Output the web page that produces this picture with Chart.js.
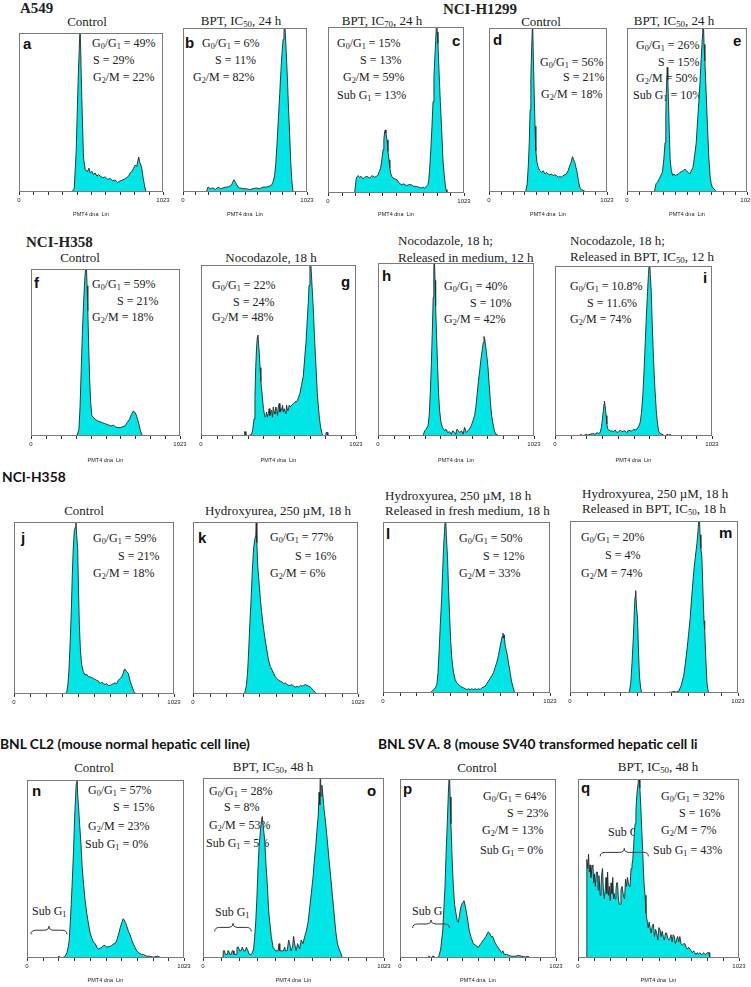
<!DOCTYPE html>
<html>
<head>
<meta charset="utf-8">
<script src="https://cdn.jsdelivr.net/npm/chart.js@4.4.1/dist/chart.umd.min.js"></script>
<style>
  body { margin: 0; width: 751px; height: 987px; position: relative; overflow: hidden; background: #fff; color: #222; font-family: 'Liberation Serif', serif; }
  .t { position: absolute; white-space: nowrap; line-height: 1; transform: translateY(-50%); z-index: 1; }
  .mid { transform: translate(-50%, -50%); }
  .s { font-size: 12px; }
  .h { font-size: 13px; }
  .sec { font-size: 15px; font-weight: bold; }
  .secs { font-family: Lato, 'Liberation Sans', sans-serif; font-size: 13.8px; font-weight: bold; color: #111; }
  .L { font-family: 'Liberation Sans', sans-serif; font-size: 15px; font-weight: bold; color: #111; }
  sub { font-size: 0.68em; vertical-align: -0.3em; line-height: 0; }
  canvas { position: absolute; z-index: 2; }
</style>
</head>
<body>
<!-- section heads -->
<div class="t sec" style="left:20px;top:8px">A549</div>
<div class="t sec mid" style="left:480px;top:9px">NCI-H1299</div>
<div class="t sec" style="left:26px;top:242px">NCI-H358</div>
<div class="t secs" style="left:2px;top:477px">NCI-H358</div>
<div class="t secs" style="left:0px;top:744px">BNL CL2 (mouse normal hepatic cell line)</div>
<div class="t secs" style="left:378px;top:744px">BNL SV A. 8 (mouse SV40 transformed hepatic cell li</div>

<!-- panel titles -->
<div class="t h mid" style="left:87px;top:21px">Control</div>
<div class="t h mid" style="left:241px;top:20px">BPT, IC<sub>50</sub>, 24 h</div>
<div class="t h mid" style="left:382px;top:20px">BPT, IC<sub>70</sub>, 24 h</div>
<div class="t h mid" style="left:541px;top:21px">Control</div>
<div class="t h mid" style="left:674px;top:20px">BPT, IC<sub>50</sub>, 24 h</div>

<div class="t h mid" style="left:80px;top:257px">Control</div>
<div class="t h mid" style="left:271px;top:257px">Nocodazole, 18 h</div>
<div class="t h" style="left:398px;top:240px">Nocodazole, 18 h;</div>
<div class="t h" style="left:398px;top:257px">Released in medium, 12 h</div>
<div class="t h" style="left:570px;top:240px">Nocodazole, 18 h;</div>
<div class="t h" style="left:570px;top:256px">Released in BPT, IC<sub>50</sub>, 12 h</div>

<div class="t h mid" style="left:84px;top:510px">Control</div>
<div class="t h mid" style="left:278px;top:510px">Hydroxyurea, 250 µM, 18 h</div>
<div class="t h" style="left:385px;top:495px">Hydroxyurea, 250 µM, 18 h</div>
<div class="t h" style="left:385px;top:510px">Released in fresh medium, 18 h</div>
<div class="t h" style="left:582px;top:493px">Hydroxyurea, 250 µM, 18 h</div>
<div class="t h" style="left:582px;top:508px">Released in BPT, IC<sub>50</sub>, 18 h</div>

<div class="t h mid" style="left:94px;top:767px">Control</div>
<div class="t h mid" style="left:273px;top:766px">BPT, IC<sub>50</sub>, 48 h</div>
<div class="t h mid" style="left:477px;top:767px">Control</div>
<div class="t h mid" style="left:658px;top:766px">BPT, IC<sub>50</sub>, 48 h</div>

<!-- panel letters -->
<div class="t L" style="left:23px;top:43px">a</div>
<div class="t L" style="left:185px;top:42px">b</div>
<div class="t L" style="left:452px;top:40px">c</div>
<div class="t L" style="left:493px;top:39px">d</div>
<div class="t L" style="left:733px;top:40px">e</div>
<div class="t L" style="left:34px;top:282px">f</div>
<div class="t L" style="left:341px;top:281px">g</div>
<div class="t L" style="left:382px;top:275px">h</div>
<div class="t L" style="left:703px;top:277px">i</div>
<div class="t L" style="left:21px;top:537px">j</div>
<div class="t L" style="left:198px;top:537px">k</div>
<div class="t L" style="left:386px;top:533px">l</div>
<div class="t L" style="left:719px;top:532px">m</div>
<div class="t L" style="left:32px;top:790px">n</div>
<div class="t L" style="left:367px;top:790px">o</div>
<div class="t L" style="left:403px;top:788px">p</div>
<div class="t L" style="left:581px;top:787px">q</div>

<!-- cell cycle percentages -->
<div class="t s" style="left:92px;top:43px">G<sub>0</sub>/G<sub>1</sub> = 49%</div>
<div class="t s" style="left:93px;top:60px">S = 29%</div>
<div class="t s" style="left:93px;top:77px">G<sub>2</sub>/M = 22%</div>

<div class="t s" style="left:202px;top:43px">G<sub>0</sub>/G<sub>1</sub> = 6%</div>
<div class="t s" style="left:215px;top:60px">S = 11%</div>
<div class="t s" style="left:193px;top:77px">G<sub>2</sub>/M = 82%</div>

<div class="t s" style="left:337px;top:43px">G<sub>0</sub>/G<sub>1</sub> = 15%</div>
<div class="t s" style="left:360px;top:60px">S = 13%</div>
<div class="t s" style="left:343px;top:77px">G<sub>2</sub>/M = 59%</div>
<div class="t s" style="left:337px;top:95px">Sub G<sub>1</sub> = 13%</div>

<div class="t s" style="left:540px;top:62px">G<sub>0</sub>/G<sub>1</sub> = 56%</div>
<div class="t s" style="left:563px;top:77px">S = 21%</div>
<div class="t s" style="left:541px;top:94px">G<sub>2</sub>/M = 18%</div>

<div class="t s" style="left:636px;top:45px">G<sub>0</sub>/G<sub>1</sub> = 26%</div>
<div class="t s" style="left:658px;top:62px">S = 15%</div>
<div class="t s" style="left:636px;top:78px">G<sub>2</sub>/M = 50%</div>
<div class="t s" style="left:633px;top:95px">Sub G<sub>1</sub> = 10%</div>

<div class="t s" style="left:92px;top:284px">G<sub>0</sub>/G<sub>1</sub> = 59%</div>
<div class="t s" style="left:117px;top:301px">S = 21%</div>
<div class="t s" style="left:92px;top:317px">G<sub>2</sub>/M = 18%</div>

<div class="t s" style="left:212px;top:285px">G<sub>0</sub>/G<sub>1</sub> = 22%</div>
<div class="t s" style="left:233px;top:302px">S = 24%</div>
<div class="t s" style="left:212px;top:317px">G<sub>2</sub>/M = 48%</div>

<div class="t s" style="left:444px;top:286px">G<sub>0</sub>/G<sub>1</sub> = 40%</div>
<div class="t s" style="left:470px;top:303px">S = 10%</div>
<div class="t s" style="left:444px;top:319px">G<sub>2</sub>/M = 42%</div>

<div class="t s" style="left:570px;top:286px">G<sub>0</sub>/G<sub>1</sub> = 10.8%</div>
<div class="t s" style="left:587px;top:303px">S = 11.6%</div>
<div class="t s" style="left:570px;top:319px">G<sub>2</sub>/M = 74%</div>

<div class="t s" style="left:93px;top:538px">G<sub>0</sub>/G<sub>1</sub> = 59%</div>
<div class="t s" style="left:118px;top:556px">S = 21%</div>
<div class="t s" style="left:93px;top:573px">G<sub>2</sub>/M = 18%</div>

<div class="t s" style="left:270px;top:537px">G<sub>0</sub>/G<sub>1</sub> = 77%</div>
<div class="t s" style="left:295px;top:556px">S = 16%</div>
<div class="t s" style="left:270px;top:573px">G<sub>2</sub>/M = 6%</div>

<div class="t s" style="left:459px;top:538px">G<sub>0</sub>/G<sub>1</sub> = 50%</div>
<div class="t s" style="left:483px;top:556px">S = 12%</div>
<div class="t s" style="left:459px;top:573px">G<sub>2</sub>/M = 33%</div>

<div class="t s" style="left:581px;top:537px">G<sub>0</sub>/G<sub>1</sub> = 20%</div>
<div class="t s" style="left:605px;top:555px">S = 4%</div>
<div class="t s" style="left:581px;top:573px">G<sub>2</sub>/M = 74%</div>

<div class="t s" style="left:88px;top:790px">G<sub>0</sub>/G<sub>1</sub> = 57%</div>
<div class="t s" style="left:113px;top:807px">S = 15%</div>
<div class="t s" style="left:88px;top:826px">G<sub>2</sub>/M = 23%</div>
<div class="t s" style="left:85px;top:844px">Sub G<sub>1</sub> = 0%</div>
<div class="t s" style="left:32px;top:911px">Sub G<sub>1</sub></div>

<div class="t s" style="left:209px;top:791px">G<sub>0</sub>/G<sub>1</sub> = 28%</div>
<div class="t s" style="left:224px;top:807px">S = 8%</div>
<div class="t s" style="left:209px;top:825px">G<sub>2</sub>/M = 53%</div>
<div class="t s" style="left:206px;top:843px">Sub G<sub>1</sub> = 5%</div>
<div class="t s" style="left:215px;top:912px">Sub G<sub>1</sub></div>

<div class="t s" style="left:483px;top:796px">G<sub>0</sub>/G<sub>1</sub> = 64%</div>
<div class="t s" style="left:507px;top:813px">S = 23%</div>
<div class="t s" style="left:482px;top:830px">G<sub>2</sub>/M = 13%</div>
<div class="t s" style="left:480px;top:850px">Sub G<sub>1</sub> = 0%</div>
<div class="t s" style="left:412px;top:911px">Sub G<sub>1</sub></div>

<div class="t s" style="left:661px;top:796px">G<sub>0</sub>/G<sub>1</sub> = 32%</div>
<div class="t s" style="left:679px;top:813px">S = 16%</div>
<div class="t s" style="left:661px;top:830px">G<sub>2</sub>/M = 7%</div>
<div class="t s" style="left:653px;top:850px">Sub G<sub>1</sub> = 43%</div>
<div class="t s" style="left:608px;top:832px">Sub G<sub>1</sub></div>

<script>
// DNA content histograms: [channel, relative count], 100 = top of the frame
const histA = [[375,0],[392,2],[406,25],[420,70],[434,105],[446,60],[458,22],[470,14],[487,13],[497,15],[506,12],[518,13],[529,11],[541,12],[553,10],[565,11],[577,10],[595,9],[612,9.5],[630,8],[648,8.5],[666,7],[684,7.5],[700,6],[719,7],[734,7.5],[748,8],[763,9],[779,10],[790,12],[802,13],[814,15],[826,17],[836,16],[845,20],[851,22],[857,19],[866,17],[874,14],[882,9],[890,5],[902,0]];
const histB = [[192,0],[206,3],[227,2],[248,2.5],[268,1.5],[289,3],[310,2],[330,2.5],[350,3],[371,3],[385,3.5],[399,4],[410,6],[421,7.5],[430,6],[440,5],[454,3],[468,2.5],[495,2],[523,2],[550,1.5],[578,2],[605,2.5],[633,2],[660,3],[688,3],[710,3.5],[729,4],[742,6],[756,10],[766,18],[776,30],[787,45],[798,60],[808,74],[817,85],[826,93],[833,97],[839,105],[844,97],[852,85],[861,70],[870,52],[880,35],[889,18],[897,8],[908,0]];
const histC = [[200,0],[213,9],[225,10.5],[238,9.5],[250,10],[263,8.5],[276,9.5],[294,10],[313,9],[332,10.5],[351,9.5],[365,10],[376,11],[386,13],[396,15],[405,20],[414,26],[420,32],[426,37],[431,38],[436,36],[444,32],[451,25],[459,20],[465,15],[471,12],[480,10],[489,9],[504,8.5],[519,8],[535,6],[552,5],[570,5.5],[589,4.5],[608,5],[627,5],[645,4],[664,4],[683,3.5],[702,3],[715,3.5],[727,3],[740,4],[752,5],[758,8],[765,15],[774,27],[782,40],[790,55],[797,70],[804,82],[810,92],[815,100],[818,105],[822,97],[827,90],[836,72],[845,55],[855,38],[865,20],[874,11],[882,5],[888,2],[895,0]];
const histD = [[317,0],[331,5],[340,15],[349,30],[356,50],[363,70],[370,88],[378,105],[385,80],[392,60],[399,40],[406,25],[416,18],[427,15],[441,13],[455,12],[470,13],[485,11],[499,12],[513,11],[528,10.5],[542,11],[556,10],[570,10.5],[585,10],[600,9],[614,9.5],[628,9],[642,10],[657,10.5],[671,11],[686,13],[700,16],[711,18],[723,21.5],[733,20],[744,18],[754,15],[764,12],[775,7],[787,3],[800,1.5],[816,1],[830,0.5],[844,0]];
const histE = [[233,0],[247,5],[261,6],[274,8],[288,10],[302,12],[314,20],[324,30],[331,48],[337,65],[343,76],[348,68],[354,55],[361,35],[368,20],[378,13],[390,10],[402,11],[414,10],[425,10.5],[440,11],[453,12],[466,12.5],[480,13],[494,14],[507,13],[521,12],[535,11],[548,13],[562,15],[576,22],[590,30],[603,45],[617,60],[628,75],[639,90],[645,97],[650,105],[657,90],[664,80],[675,60],[686,40],[697,22],[708,10],[718,5],[727,3],[740,2],[754,1],[768,0]];
const histF = [[315,0],[329,4],[337,18],[345,40],[353,62],[361,80],[370,95],[379,105],[385,90],[390,75],[396,55],[402,35],[410,20],[418,12],[430,11],[441,10],[458,9],[475,8.5],[490,8],[505,7.5],[521,7],[535,6.5],[550,6],[566,6.5],[580,5.5],[596,5],[612,5],[628,5.5],[646,6],[660,8],[676,10],[690,13],[703,15],[710,14.5],[721,13],[732,10],[744,6],[752,3],[760,1],[772,0]];
const histG = [[285,0],[288,2.5],[293,2.5],[296,0],[312,0],[322,0.5],[334,1],[342,4],[350,10],[356,22],[361,40],[367,52],[372,58],[376,59],[380,54],[385,48],[390,40],[395,32],[403,25],[412,16],[422,11],[428,12],[433,14],[438,11],[444,13],[450,16],[455,12],[460,14],[466,15],[472,11],[477,17],[483,14],[488,13],[494,17],[500,15],[505,12],[510,17],[516,19],[521,14],[527,16],[532,15],[538,18],[543,14],[549,16],[554,16],[560,13],[565,18],[571,15],[576,15],[582,18],[590,17],[598,18],[610,19],[620,20],[631,20],[642,22],[653,25],[664,30],[675,35],[684,45],[693,55],[700,66],[708,78],[713,88],[719,100],[723,104],[728,96],[734,86],[741,75],[748,60],[755,47],[762,35],[768,24],[774,18],[782,10],[790,5],[797,2],[803,0],[823,0],[825,2],[835,2],[837,0]];
const histH = [[295,0],[306,3],[317,4],[328,6],[336,12],[343,25],[350,42],[356,60],[362,80],[366,95],[369,105],[374,90],[378,75],[384,58],[391,40],[397,25],[404,15],[413,8],[422,5],[430,4],[437,3],[447,4],[456,2],[470,2.5],[480,1],[490,3],[503,2],[510,1],[518,4],[527,3],[536,2],[548,3],[558,1],[568,5],[579,2],[590,3],[600,4],[612,6],[623,9],[634,12],[642,17],[651,25],[659,32],[667,38],[676,45],[684,50],[690,54],[695,57.5],[700,56],[706,52],[714,46],[721,40],[729,30],[737,20],[745,12],[754,7],[763,3],[772,1],[780,1],[787,0]];
const histI = [[163,0],[168,1],[175,0.5],[185,0],[200,1],[215,0.5],[229,1],[245,1.5],[260,1],[275,2],[285,1.5],[294,2],[302,5],[309,10],[315,15],[320,19],[322,20.5],[326,18],[333,12],[338,7],[344,4],[352,3.5],[360,3],[370,3],[380,2.5],[392,3.5],[403,2],[414,2.5],[425,3.5],[436,2.5],[447,3],[457,3],[468,2],[479,3.5],[490,3],[501,3],[512,4],[522,3.5],[533,4],[544,5.5],[555,8],[564,14],[573,25],[580,38],[588,55],[595,70],[603,85],[609,95],[614,102],[616,105],[621,95],[627,85],[634,65],[642,45],[651,28],[660,15],[667,8],[675,3],[686,1.5],[697,1],[708,0.5],[718,0],[732,1],[736,0],[752,1],[756,0]];
const histJ = [[315,0],[330,0.5],[337,1],[345,6],[352,15],[360,32],[367,50],[373,70],[379,85],[386,95],[392,97],[396,100],[401,92],[407,85],[412,62],[418,40],[425,25],[433,17],[443,13],[454,11],[465,11.5],[476,10],[486,10],[497,9.5],[508,9],[518,8.5],[528,8],[540,7.5],[550,6],[561,7],[571,6],[582,5.5],[593,6],[603,5],[614,5],[625,5.5],[635,6],[646,6.5],[656,6],[667,8],[678,9],[688,10],[698,12],[704,14],[710,14.5],[720,13],[731,12],[741,8],[752,5],[760,3],[767,1],[776,0.5],[784,0]];
const histK = [[314,0],[322,1],[331,5],[338,12],[345,25],[352,40],[360,55],[368,72],[376,85],[383,90],[389,92],[392,100],[396,88],[401,75],[407,68],[412,62],[418,55],[425,48],[431,43],[438,38],[445,33],[452,29],[459,25],[466,21],[473,18],[480,16],[490,14],[500,12],[510,10],[521,9],[531,8],[541,7.5],[552,7],[562,6],[572,6.5],[583,5.5],[593,5],[604,5],[614,5.5],[624,4.5],[635,4],[645,4.5],[655,4],[666,5],[676,4.5],[686,5],[697,5.5],[707,5],[718,4.5],[728,4],[738,3],[748,2],[758,1],[769,0]];
const histL = [[289,0],[300,1],[310,2],[320,3],[330,5],[337,12],[344,25],[351,40],[359,55],[365,70],[371,85],[377,95],[383,105],[389,90],[395,80],[401,62],[408,45],[415,30],[422,20],[432,12],[442,8],[452,6],[463,5],[473,4],[483,3.5],[494,3],[504,2.5],[514,2],[524,2.5],[534,2],[544,2.5],[554,2],[564,2.5],[574,2],[585,2.5],[595,2],[605,3],[616,3.5],[626,4],[636,5.5],[646,7],[656,8.5],[666,10],[677,12],[687,15],[697,18],[707,22],[715,26],[723,30],[730,33],[735,35],[738,32],[743,34],[748,28],[755,25],[762,22],[770,17],[779,12],[787,7],[795,4],[801,2],[807,0]];
const histM = [[356,0],[362,1],[370,6],[378,18],[386,33],[392,48],[396,56],[400,59.5],[405,50],[411,44],[417,25],[423,10],[430,3],[437,0],[505,0],[507,0.5],[512,0],[600,0],[605,0.5],[620,0.5],[635,1],[645,0.5],[661,1],[676,4],[692,10],[702,17],[712,25],[722,34],[732,44],[742,57],[753,70],[763,79],[773,87],[780,95],[787,105],[792,92],[797,84],[803,79],[810,58],[816,42],[820,37],[827,20],[834,6],[840,2],[844,0]];
const histN = [[195,0],[200,0.5],[208,1],[215,0.5],[225,0],[240,0.5],[249,1],[260,3],[268,6],[275,10],[282,20],[288,30],[296,45],[303,60],[310,78],[316,90],[321,98],[325,105],[330,92],[336,85],[343,75],[351,65],[359,52],[368,42],[379,32],[390,25],[401,19],[412,14],[423,11],[433,9],[444,8],[455,6],[466,5],[477,5.5],[488,6],[498,7],[509,7],[520,6],[531,6.5],[542,6.5],[552,7],[563,8],[574,8],[585,10],[596,13],[607,17],[618,20],[626,22],[633,21.5],[641,20],[650,18],[661,15],[672,13],[683,10],[693,8],[704,6],[715,4],[726,3],[737,2.5],[748,2],[758,2],[769,1.5],[780,1],[800,1],[823,0.5],[850,1],[865,0.5],[878,0]];
const histO = [[113,0],[115,4],[122,4],[126,2],[136,2],[140,4],[145,4],[151,2],[160,2],[165,4],[170,4],[175,2],[188,2],[192,6],[200,6],[207,4],[215,4],[222,6],[226,6],[230,4],[240,4],[245,6],[254,4],[262,2],[273,2],[279,3],[286,5],[292,12],[298,20],[304,32],[311,50],[317,62],[324,70],[330,76],[335,78.6],[342,72],[349,65],[356,52],[364,40],[370,28],[377,20],[386,12],[396,6],[410,4],[424,4],[430,8],[434,4],[444,4],[455,4],[462,6],[466,4],[476,4],[484,10],[490,8],[497,4],[506,6],[512,12],[518,8],[526,4],[535,8],[546,5],[555,10],[565,8],[575,12],[584,15],[594,20],[603,28],[612,36],[622,45],[630,55],[637,62],[645,72],[652,80],[656,92],[660,85],[663,105],[667,90],[672,96],[678,90],[685,82],[693,75],[703,65],[712,55],[722,45],[731,35],[741,25],[750,15],[760,8],[769,5],[778,3],[788,0]];
const histP = [[186,0],[188,1],[195,1],[197,0],[210,0],[212,1],[220,1],[222,0],[251,0],[258,2],[267,5],[273,10],[280,15],[288,28],[295,40],[302,58],[310,75],[317,92],[324,105],[329,90],[334,75],[342,55],[350,40],[358,30],[367,25],[375,21],[383,20],[390,24],[398,28],[405,30],[412,31],[420,32],[428,29],[437,25],[446,20],[455,15],[468,11],[481,8],[497,7],[514,6],[530,8],[547,10],[563,12],[571,13.5],[579,14.6],[587,14],[597,12],[608,12],[621,9],[634,7],[650,5],[667,3],[675,4],[683,2],[700,2],[715,1.5],[730,1],[743,1],[760,1],[775,1.5],[798,1],[820,0.5],[840,1],[853,0]];
const histQ = [[53,0],[55,40],[57,55],[62,50],[67,58],[72,48],[77,52],[82,45],[88,50],[95,52],[100,42],[105,47],[110,40],[117,48],[124,48],[128,38],[133,46],[141,35],[146,40],[151,47],[156,50],[161,38],[167,33],[173,38],[178,45],[183,36],[188,48],[194,35],[200,40],[205,32],[210,42],[216,36],[221,45],[226,33],[231,36],[236,33],[241,38],[246,42],[251,42],[256,34],[262,30],[268,30],[273,38],[280,40],[285,40],[290,34],[296,33],[302,44],[308,40],[314,45],[320,42],[326,40],[331,40],[337,50],[343,52],[348,55],[353,62],[358,70],[363,75],[368,82],[373,90],[378,95],[383,98],[388,105],[393,95],[399,85],[405,72],[411,60],[416,48],[421,40],[426,35],[432,25],[437,22],[441,20],[446,17],[452,20],[458,17],[465,14],[472,18],[479,19],[486,12],[493,16],[500,14],[507,10],[514,17],[521,16],[528,12],[535,15],[542,12],[549,10],[556,14],[563,14],[570,11],[577,10],[584,11],[591,13],[598,9],[605,13],[612,12],[619,8],[626,10],[633,12],[640,9],[647,12],[655,8],[663,7],[671,8],[679,8],[687,6],[695,5],[703,6],[711,5],[719,4],[727,3],[735,4],[742,3],[750,2],[758,3],[766,2],[774,3],[782,2],[790,2],[798,3],[806,2],[814,2],[822,3],[830,3],[833,3],[837,0]];

// axis: channel 0..1023, ten divisions
const xTickValues = [0, 102.3, 204.6, 306.9, 409.2, 511.5, 613.8, 716.1, 818.4, 920.7, 1023];
const axisTitle = 'PMT4 dna  Lin';

// Sub G1 brackets: [from channel, to channel, height]
const subG1N = [26, 260, 15.6];
const subG1O = [66, 273, 17];
const subG1P = [83, 324, 19];
const subG1Q = [141, 447, 59];

const FILL = '#00e6e6';
const PAD = 16;

// frame round the plot area, plus the small ticks under it
const framePlugin = {
    id: 'frameBox',
    afterDraw(chart) {
        const { ctx, chartArea: a } = chart;
        const xs = chart.scales.x;
        const l = Math.round(a.left), t = Math.round(a.top);
        const r = Math.round(a.right), b = Math.round(a.bottom);
        ctx.save();
        ctx.strokeStyle = '#7a7a7a';
        ctx.lineWidth = 1;
        ctx.strokeRect(l + 0.5, t + 0.5, r - l - 1, b - t - 1);
        ctx.strokeStyle = '#333';
        ctx.beginPath();
        xTickValues.forEach(v => {
            const px = Math.round(xs.getPixelForValue(v)) + 0.5;
            ctx.moveTo(px, b);
            ctx.lineTo(px, b + 3);
        });
        ctx.stroke();
        ctx.restore();
    }
};

const bracePlugin = {
    id: 'subBrace',
    afterDatasetsDraw(chart, args, opts) {
        if (!opts.range) return;
        const [from, to, at] = opts.range;
        const xs = chart.scales.x, ys = chart.scales.y;
        const x0 = xs.getPixelForValue(from), x1 = xs.getPixelForValue(to);
        const y = ys.getPixelForValue(at), m = (x0 + x1) / 2;
        const h = 4, r = 5;
        const ctx = chart.ctx;
        ctx.save();
        ctx.strokeStyle = '#333';
        ctx.lineWidth = 1;
        ctx.beginPath();
        ctx.moveTo(x0, y + h);
        ctx.quadraticCurveTo(x0, y, x0 + r, y);
        ctx.lineTo(m - r, y);
        ctx.quadraticCurveTo(m, y, m, y - h);
        ctx.quadraticCurveTo(m, y, m + r, y);
        ctx.lineTo(x1 - r, y);
        ctx.quadraticCurveTo(x1, y, x1, y + h);
        ctx.stroke();
        ctx.restore();
    }
};

function makePanel(hist, box, axisH, showTitle, brace) {
    const [left, top, right, bottom] = box;
    const canvas = document.createElement('canvas');
    const w = right - left + 2 * PAD, h = bottom - top + 1 + axisH;
    canvas.width = w;
    canvas.height = h;
    canvas.style.left = (left - PAD) + 'px';
    canvas.style.top = (top - 1) + 'px';
    canvas.style.width = w + 'px';
    canvas.style.height = h + 'px';
    document.body.appendChild(canvas);

    return new Chart(canvas, {
        type: 'line',
        data: {
            datasets: [{
                data: hist.map(p => ({ x: p[0], y: p[1] })),
                borderColor: '#262626',
                borderWidth: 0.9,
                backgroundColor: FILL,
                fill: 'origin',
                pointRadius: 0,
                tension: 0
            }]
        },
        options: {
            responsive: false,
            animation: false,
            events: [],
            layout: { padding: { left: PAD, right: PAD, top: 1, bottom: 0 } },
            plugins: {
                legend: { display: false },
                tooltip: { enabled: false },
                subBrace: { range: brace }
            },
            scales: {
                x: {
                    type: 'linear',
                    min: 0,
                    max: 1023,
                    afterBuildTicks: s => { s.ticks = xTickValues.map(v => ({ value: v })); },
                    afterFit: s => { s.height = axisH; },
                    ticks: {
                        autoSkip: false,
                        maxRotation: 0,
                        padding: 2,
                        color: '#222',
                        font: { family: 'Liberation Sans', size: 6 },
                        callback: v => (v === 0 || v === 1023) ? String(v) : ''
                    },
                    grid: { display: false, drawOnChartArea: false, tickLength: 3 },
                    border: { display: false },
                    title: {
                        display: showTitle,
                        text: axisTitle,
                        color: '#222',
                        font: { family: 'Liberation Sans', size: 5.5 },
                        padding: { top: 0, bottom: 3 }
                    }
                },
                y: { display: false, min: 0, max: 100 }
            }
        },
        plugins: [framePlugin, bracePlugin]
    });
}

makePanel(histA, [19, 33, 163, 192], 29, true);
makePanel(histB, [183, 28, 307, 192], 29, true);
makePanel(histC, [328, 27, 464, 193], 28, true);
makePanel(histD, [489, 28, 607, 192], 29, true);
makePanel(histE, [627, 28, 747, 192], 29, true);

makePanel(histF, [31, 269, 180, 436], 31, true);
makePanel(histG, [201, 265, 356, 436], 31, true);
makePanel(histH, [378, 263, 534, 436], 31, true);
makePanel(histI, [555, 266, 712, 436], 31, true);

makePanel(histJ, [14, 522, 174, 694], 14, false);
makePanel(histK, [193, 522, 358, 694], 14, false);
makePanel(histL, [383, 522, 550, 693], 14, false);
makePanel(histM, [570, 521, 738, 693], 14, false);

makePanel(histN, [27, 780, 184, 958], 29, true, subG1N);
makePanel(histO, [203, 778, 384, 958], 29, true, subG1O);
makePanel(histP, [400, 779, 556, 958], 29, true, subG1P);
makePanel(histQ, [578, 779, 739, 958], 29, true, subG1Q);
</script>
</body>
</html>
